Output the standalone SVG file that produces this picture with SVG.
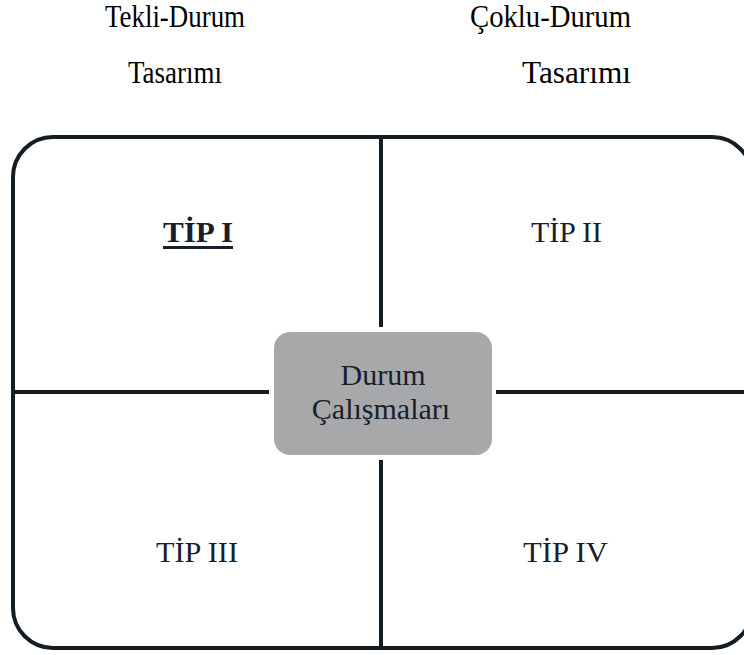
<svg xmlns="http://www.w3.org/2000/svg" width="744" height="655" viewBox="0 0 744 655">
<style>
.hd{font-family:"Liberation Serif","Times New Roman",serif;font-size:31px;fill:#000}
.lb{font-family:"Liberation Serif","Times New Roman",serif;font-size:30px;fill:#17202a}
.ln{stroke:#141c24;stroke-width:4;fill:none}
</style>
<rect width="744" height="655" fill="#fff"/>
<g id="headers">
<text class="hd" x="105" y="27" textLength="140" lengthAdjust="spacingAndGlyphs">Tekli-Durum</text>
<text class="hd" x="128" y="83" textLength="94" lengthAdjust="spacingAndGlyphs">Tasarımı</text>
<text class="hd" x="470" y="27" textLength="161" lengthAdjust="spacingAndGlyphs">Çoklu-Durum</text>
<text class="hd" x="522" y="83" textLength="109" lengthAdjust="spacingAndGlyphs">Tasarımı</text>
</g>
<g id="frame">
<rect class="ln" x="13" y="137" width="739" height="511" rx="40" ry="40"/>
</g>
<g id="connectors">
<line class="ln" x1="381" y1="137" x2="381" y2="327"/>
<line class="ln" x1="381" y1="460" x2="381" y2="648"/>
<line class="ln" x1="13" y1="392" x2="269" y2="392"/>
<line class="ln" x1="496" y1="392" x2="752" y2="392"/>
</g>
<g id="tip1">
<text class="lb" x="163" y="242" font-weight="bold" textLength="70" lengthAdjust="spacingAndGlyphs">TİP I</text>
<rect x="163" y="246" width="70" height="3" fill="#17202a"/>
</g>
<g id="tip2"><text class="lb" x="531" y="242" textLength="71" lengthAdjust="spacingAndGlyphs">TİP II</text></g>
<g id="tip3"><text class="lb" x="156" y="562" textLength="82" lengthAdjust="spacingAndGlyphs">TİP III</text></g>
<g id="tip4"><text class="lb" x="523" y="562" textLength="85" lengthAdjust="spacingAndGlyphs">TİP IV</text></g>
<g id="center">
<rect x="274" y="332" width="218" height="123" rx="16" ry="16" fill="#a7a8aa"/>
<text class="lb" x="383" y="385" text-anchor="middle">Durum</text>
<text class="lb" x="381" y="419" text-anchor="middle">Çalışmaları</text>
</g>
</svg>
